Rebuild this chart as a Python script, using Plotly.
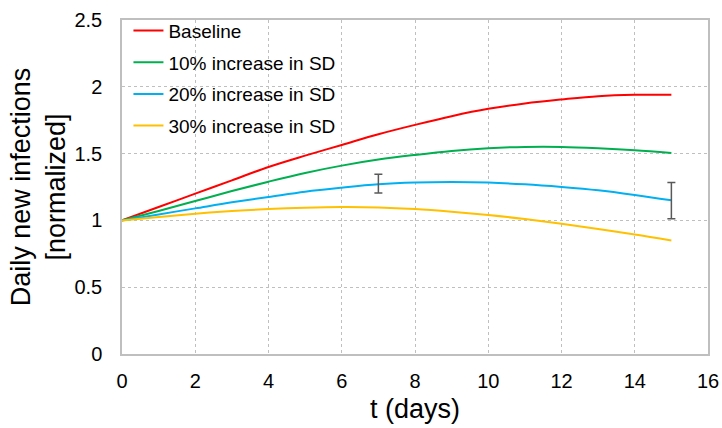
import plotly.graph_objects as go

# Days since intervention
days = list(range(16))

# Normalized daily new infections per scenario
baseline = [1.0, 1.10, 1.20, 1.30, 1.40, 1.485, 1.565, 1.645, 1.715, 1.78, 1.835, 1.875, 1.905, 1.93, 1.94, 1.94]
sd10 = [1.0, 1.07, 1.145, 1.22, 1.29, 1.355, 1.41, 1.455, 1.49, 1.52, 1.54, 1.55, 1.55, 1.54, 1.525, 1.505]
sd20 = [1.0, 1.045, 1.09, 1.135, 1.175, 1.215, 1.245, 1.27, 1.283, 1.287, 1.283, 1.27, 1.25, 1.225, 1.19, 1.15]
sd30 = [1.0, 1.025, 1.05, 1.07, 1.085, 1.095, 1.10, 1.097, 1.085, 1.065, 1.04, 1.01, 0.975, 0.935, 0.895, 0.85]

series_names = ["Baseline", "10% increase in SD", "20% increase in SD", "30% increase in SD"]
series_values = [baseline, sd10, sd20, sd30]
series_colors = ["#FF0000", "#00B050", "#00B0F0", "#FFC000"]

# Uncertainty markers on the 20% curve
err_days = [7, 15]
err_vals = [1.275, 1.148]
err_half = [0.07, 0.135]

FONT = "Liberation Sans, Arial, sans-serif"

fig = go.Figure()
for i, (name, vals, col) in enumerate(zip(series_names, series_values, series_colors)):
    fig.add_trace(go.Scatter(
        x=days, y=vals, name=name, mode="lines",
        line=dict(color=col, width=2, shape="spline"),
        legendgroup=f"g{i}",
    ))

fig.add_trace(go.Scatter(
    x=err_days, y=err_vals, mode="markers",
    marker=dict(size=0.1, color="rgba(0,0,0,0)"),
    error_y=dict(type="data", array=err_half, visible=True,
                 color="#595959", thickness=1.5, width=4),
    showlegend=False, hoverinfo="skip",
))

fig.update_layout(
    width=722, height=428,
    margin=dict(l=122, r=14, t=20, b=74),
    paper_bgcolor="white", plot_bgcolor="white",
    font=dict(family=FONT, color="#000000"),
    showlegend=True,
    legend=dict(
        x=0.011, y=1.025, xanchor="left", yanchor="top",
        bgcolor="rgba(0,0,0,0)", font=dict(size=19, family=FONT),
        traceorder="grouped", tracegroupgap=4,
    ),
    xaxis=dict(
        range=[0, 16], dtick=2, tick0=0, automargin=False,
        showgrid=True, gridcolor="#BFBFBF", griddash="dot", gridwidth=1,
        showline=True, linecolor="#BFBFBF", linewidth=1.5, mirror=True,
        ticks="", zeroline=False, ticklabelstandoff=8,
        tickfont=dict(size=20, family=FONT),
        title=dict(text="t (days)", font=dict(size=27, family=FONT), standoff=8),
    ),
    yaxis=dict(
        range=[0, 2.5], dtick=0.5, tick0=0, automargin=False,
        showgrid=True, gridcolor="#BFBFBF", griddash="dot", gridwidth=1,
        showline=True, linecolor="#BFBFBF", linewidth=1.5, mirror=True,
        ticks="", zeroline=False, ticklabelstandoff=14,
        tickfont=dict(size=20, family=FONT),
        title=dict(text="Daily new infections<br>[normalized]", font=dict(size=27, family=FONT), standoff=1),
    ),
)

fig.write_html("out.html")
